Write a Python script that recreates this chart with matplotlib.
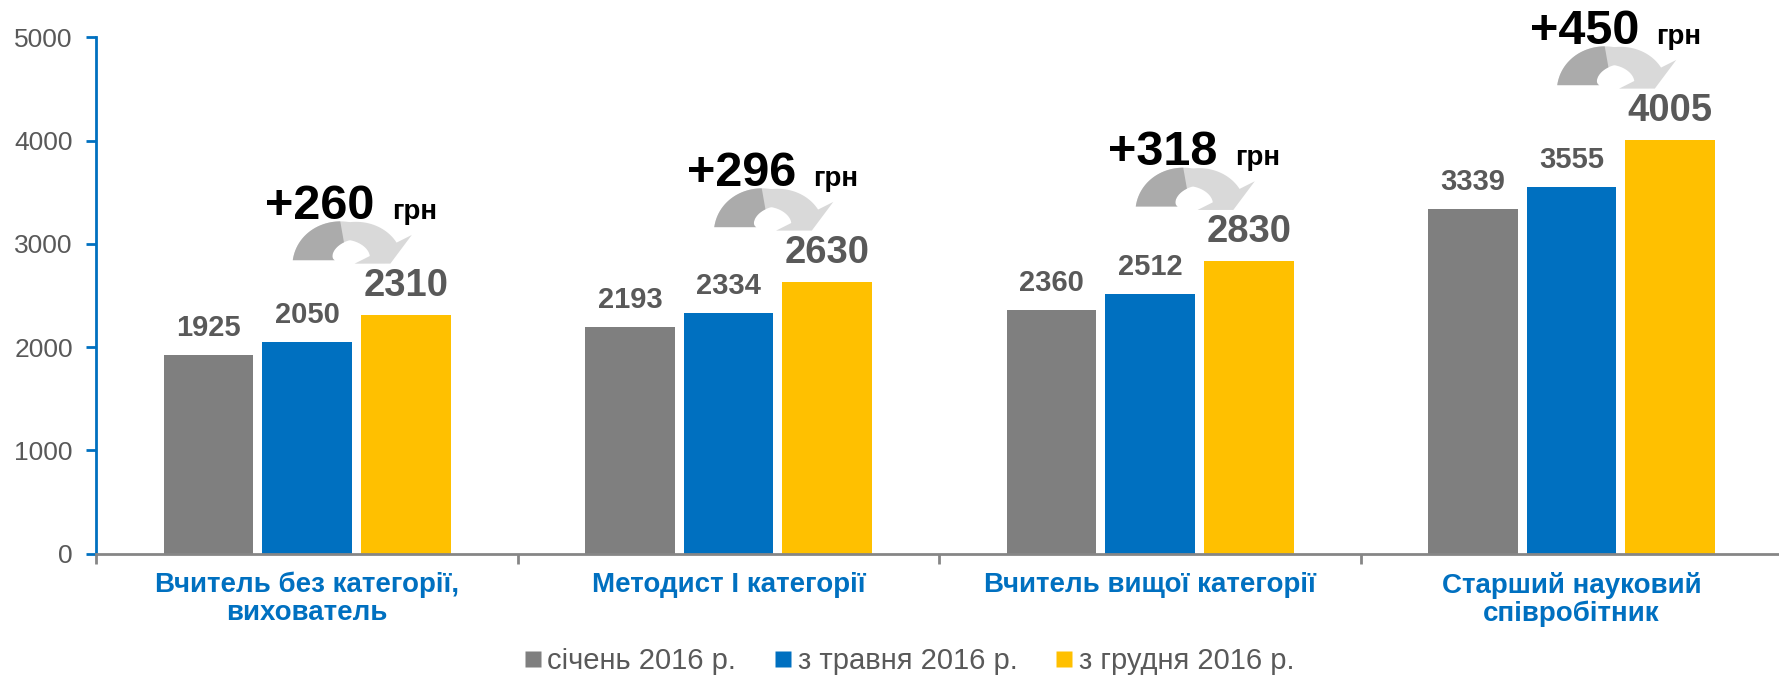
import matplotlib
matplotlib.use("Agg")
import numpy as np
import matplotlib.pyplot as plt
import matplotlib.patches as patches
import matplotlib.transforms as mtransforms
from matplotlib.lines import Line2D

# Data
categories = ['Вчитель без категорії,\nвихователь', 'Методист I категорії',
              'Вчитель вищої категорії', 'Старший науковий\nспівробітник']
jan_2016 = [1925, 2193, 2360, 3339]
may_2016 = [2050, 2334, 2512, 3555]
dec_2016 = [2310, 2630, 2830, 4005]
series_names = ['січень 2016 р.', 'з травня 2016 р.', 'з грудня 2016 р.']
y_ticks = [0, 1000, 2000, 3000, 4000, 5000]

GRAY = '#7F7F7F'
BLUE = '#0070C0'
YELLOW = '#FFC000'
TXT = '#595959'

plt.rcParams['font.family'] = ['Liberation Sans', 'DejaVu Sans']


def curved_arrow(cx=-56, rx=36, ry=29, y0=55, th_end=np.radians(22),
                 th_split=np.radians(100), hw=32, hl=16):
    # Arched arrow outline in pixels, relative to an anchor point
    th = np.linspace(np.pi, th_end, 60)
    w = np.interp(th, [th_end, np.pi / 2, np.pi], [15, 9, 21])
    c = np.column_stack([cx + rx * np.cos(th), y0 + ry * np.sin(th)])
    nv = np.column_stack([ry * np.cos(th), rx * np.sin(th)])
    nv /= np.linalg.norm(nv, axis=1)[:, None]
    outer = c + w[:, None] * nv
    inner = c - w[:, None] * nv
    d = np.array([rx * np.sin(th_end), -ry * np.cos(th_end)])
    d /= np.linalg.norm(d)
    head = np.array([c[-1] + hw * nv[-1], c[-1] + hl * d, c[-1] - hw * nv[-1]])
    full = np.vstack([outer, head, inner[::-1]])
    m = th >= th_split
    dark = np.vstack([outer[m], inner[m][::-1]])
    return full, dark


fig = plt.figure(figsize=(17.79, 6.79), dpi=100)
ax = fig.add_axes([0.0542, 0.1845, 0.9477, 0.7604])

n = len(categories)
centers = np.arange(n) + 0.5
bw = 0.2126
step = 0.234
colors = [GRAY, BLUE, YELLOW]
all_series = [jan_2016, may_2016, dec_2016]

ax.set_xlim(0, n)
ax.set_ylim(0, 5000)

for k, (vals, col) in enumerate(zip(all_series, colors)):
    xs = centers + (k - 1) * step
    ax.bar(xs, vals, width=bw, color=col, zorder=2)
    for x, v in zip(xs, vals):
        big = (k == 2)
        ax.annotate(str(v), xy=(x, v), xytext=(0, 19), textcoords='offset pixels',
                    ha='center', va='baseline', color=TXT, fontweight='bold',
                    fontsize=27.5 if big else 21)

# Arrows and increments
full_shape, dark_shape = curved_arrow()
for i in range(n):
    x_yel = centers[i] + step
    top = dec_2016[i]
    diff = dec_2016[i] - may_2016[i]
    px, py = ax.transData.transform((x_yel, top))
    tr = mtransforms.Affine2D().translate(px, py)
    ax.add_patch(patches.Polygon(full_shape, closed=True, transform=tr, facecolor='#D9D9D9',
                                 edgecolor='none', clip_on=False, zorder=3))
    ax.add_patch(patches.Polygon(dark_shape, closed=True, transform=tr, facecolor='#ABABAB',
                                 edgecolor='none', clip_on=False, zorder=4))

    ax.annotate('+%d' % diff, xy=(x_yel, top), xytext=(-31, 96), textcoords='offset pixels',
                ha='right', va='baseline', fontsize=35, fontweight='bold', color='black',
                annotation_clip=False, zorder=5)
    ax.annotate('грн', xy=(x_yel, top), xytext=(-14, 96), textcoords='offset pixels',
                ha='left', va='baseline', fontsize=20, fontweight='bold', color='black',
                annotation_clip=False, zorder=5)

# Axes styling
for s in ['top', 'right']:
    ax.spines[s].set_visible(False)
ax.spines['left'].set_color(BLUE)
ax.spines['left'].set_linewidth(2)
ax.spines['bottom'].set_color('#868686')
ax.spines['bottom'].set_linewidth(2)

ax.set_yticks(y_ticks)
ax.tick_params(axis='y', colors=BLUE, length=7, width=2, direction='out',
               labelsize=19, labelcolor=TXT, pad=10)

ax.set_xticks(centers)
ax.set_xticklabels(categories, fontsize=20, fontweight='bold', color=BLUE, linespacing=1.1)
ax.tick_params(axis='x', which='major', length=0, pad=13)
ax.set_xticks(np.arange(n + 1), minor=True)
ax.tick_params(axis='x', which='minor', length=7, width=2, color='#868686', direction='out')

# Legend
handles = [Line2D([], [], linestyle='none', marker='s', markersize=11,
                  markerfacecolor=c, markeredgecolor='none') for c in colors]
fig.legend(handles, series_names, loc='center', bbox_to_anchor=(0.511, 0.026),
           ncol=3, frameon=False, fontsize=21, labelcolor=TXT,
           handlelength=0.6, handletextpad=0.2, columnspacing=1.3, borderpad=0)

fig.savefig('out.png', dpi=100)
